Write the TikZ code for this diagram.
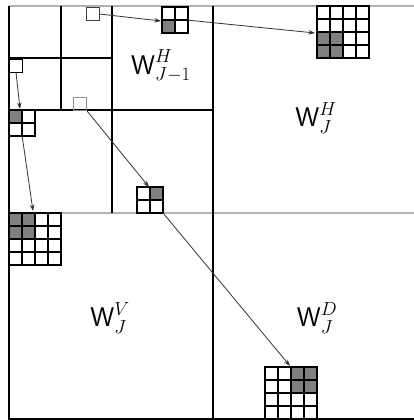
\documentclass[tikz,border=0pt]{standalone}
\usepackage{fix-cm}
\usetikzlibrary{arrows.meta}
\tikzset{
  framerule/.style={line width=1.2pt, black},
  bandrule/.style={line width=2.6pt, black!30},
  hotcell/.style={fill=black!50},
  seedbox/.style={draw, line width=1.2pt, minimum size=13pt, inner sep=0pt, anchor=north west},
  blockbox/.style={minimum size=#1, inner sep=0pt, anchor=north west},
  link/.style={line width=0.8pt, black!80, -{Stealth[length=6.5pt,width=4.5pt]}},
  wlabel/.style={font=\fontsize{27}{32}\selectfont, inner sep=0pt},
  cellblock/.pic={
    \foreach \i in {1,...,#1}
      \foreach \j in {1,...,#1}
        \draw[line width=1.2pt] ({(\i-1)*13},{(\j-1)*13}) rectangle ++(13,13);
  }
}
\begin{document}
\begin{tikzpicture}[x=1pt,y=-1pt]
\useasboundingbox (0,0) rectangle (414,420);

% light bands: top edge and horizontal mid line
\draw[bandrule] (9,6) -- (414,6);
\draw[bandrule] (9,213) -- (414,213);

% subband partition
\draw[framerule] (9,6) -- (9,419) -- (414,419);
\draw[framerule] (213,6) -- (213,419);
\draw[framerule] (112,6) -- (112,213);
\draw[framerule] (9,110) -- (213,110);
\draw[framerule] (61,6) -- (61,110);
\draw[framerule] (9,58) -- (112,58);

% coarsest-level coefficients
\node[seedbox, draw=black!75] (sH) at (86,7) {};
\node[seedbox, draw=black] (sV) at (9,59) {};
\node[seedbox, draw=black!45] (sD) at (73,97) {};

% children at level J-1 (2x2)
\fill[hotcell] (162,20) rectangle ++(13,13);
\pic at (162,7) {cellblock=2};
\node[blockbox=26pt] (gH) at (162,7) {};

\fill[hotcell] (9,110) rectangle ++(13,13);
\pic at (9,110) {cellblock=2};
\node[blockbox=26pt] (gV) at (9,110) {};

\fill[hotcell] (150,187) rectangle ++(13,13);
\pic at (137,187) {cellblock=2};
\node[blockbox=26pt] (gD) at (137,187) {};

% descendants at level J (4x4)
\fill[hotcell] (317,32) rectangle ++(26,26);
\pic at (317,6) {cellblock=4};
\node[blockbox=52pt] (fH) at (317,6) {};

\fill[hotcell] (9,213) rectangle ++(26,26);
\pic at (9,213) {cellblock=4};
\node[blockbox=52pt] (fV) at (9,213) {};

\fill[hotcell] (291,367) rectangle ++(26,26);
\pic at (265,367) {cellblock=4};
\node[blockbox=52pt] (fD) at (265,367) {};

% arrow targets
\coordinate (tH1) at (161,21);
\coordinate (tH2) at (315,33);
\coordinate (tV1) at (20,109);
\coordinate (tV2) at (33,211);
\coordinate (tD1) at (149,187);
\coordinate (tD2) at (290,366);

% parent-child links
\draw[link] (sH.east) -- (tH1);
\draw[link] (gH.east) -- (tH2);
\draw[link] (sV.south) -- (tV1);
\draw[link] (gV.south) -- (tV2);
\draw[link] (sD.south east) -- (tD1);
\draw[link] (gD.south east) -- (tD2);

% subband labels
\node[wlabel] (lH1) at (161,66) {$\textsf{W}^{H}_{J-1}$};
\node[wlabel] (lH) at (316,118) {$\textsf{W}^{H}_{J}$};
\node[wlabel] (lV) at (110,318) {$\textsf{W}^{V}_{J}$};
\node[wlabel] (lD) at (317,318) {$\textsf{W}^{D}_{J}$};
\end{tikzpicture}
\end{document}
